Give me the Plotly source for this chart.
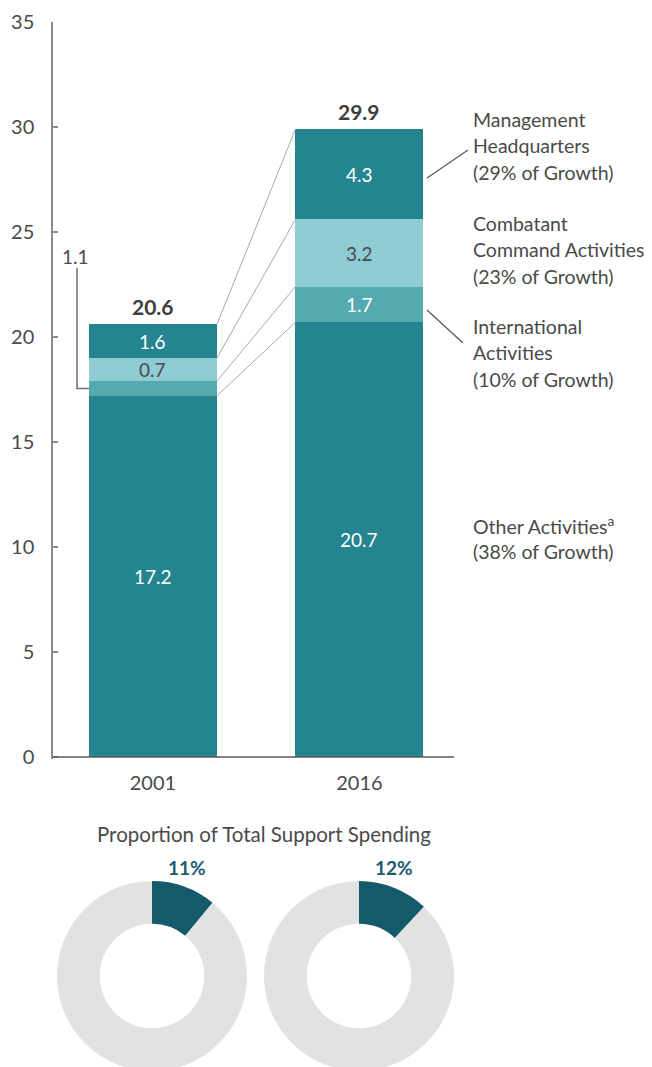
import plotly.graph_objects as go

# ---------------- data ----------------
years = ["2001", "2016"]
other = [17.2, 20.7]
international = [0.7, 1.7]
combatant = [1.1, 3.2]
management = [1.6, 4.3]

other_labels = ["17.2", "20.7"]
intl_labels = ["1.1", "1.7"]
comb_labels = ["0.7", "3.2"]
mgmt_labels = ["1.6", "4.3"]

series_names = ["Other Activities", "International Activities",
                "Combatant Command Activities", "Management Headquarters"]
growth_share = ["38%", "10%", "23%", "29%"]

share_pct = [11, 12]
share_labels = ["11%", "12%"]

y_ticks = [0, 5, 10, 15, 20, 25, 30, 35]

# ---------------- style ----------------
FONT = "Lato"
TXT = "#4a4a4a"
TEAL = "#24848F"
MID = "#57A9B0"
LIGHT = "#8FCCD3"
DARK = "#155A6B"
GREY = "#E1E2E4"

W, H = 652, 1067
OFF = 8                      # page body margin
PX_PER_UNIT = 21.0
Y0_PX = 757.0                # reference pixel of y = 0
AX_X_PX = 53.0               # reference pixel of y axis line
BAR_W = 0.62
X_LEFT = -0.484
PX_PER_X = 206.5


def ydata(px):
    return (Y0_PX - px) / PX_PER_UNIT


def xdata(px):
    return X_LEFT + (px - AX_X_PX) / PX_PER_X


def paper_x(px):
    return (px - OFF) / W


def paper_y(py):
    return 1 - (py - OFF) / H


xs = [0, 1]
fig = go.Figure()

stack = [(other, TEAL), (international, MID), (combatant, LIGHT), (management, TEAL)]
for (vals, col), name in zip(stack, series_names):
    fig.add_trace(go.Bar(x=xs, y=vals, width=BAR_W, marker=dict(color=col, line=dict(width=0)),
                         name=name, showlegend=False, hoverinfo="skip"))
fig.update_layout(barmode="stack")

# cumulative boundaries
tops = []
acc = [0.0, 0.0]
for vals, _ in stack:
    acc = [a + v for a, v in zip(acc, vals)]
    tops.append(list(acc))

# connector lines between the bars
for t in tops:
    fig.add_trace(go.Scatter(x=[0 + BAR_W / 2, 1 - BAR_W / 2], y=[t[0], t[1]], mode="lines",
                             line=dict(color="#a8a8a8", width=1), showlegend=False, hoverinfo="skip"))

annotations = []
# segment labels
label_sets = [other_labels, intl_labels, comb_labels, mgmt_labels]
colors_txt = ["white", "white", TXT, "white"]
bottoms = [[0.0, 0.0]] + tops[:-1]
for si, ((vals, _), labs) in enumerate(zip(stack, label_sets)):
    for i in range(2):
        mid = bottoms[si][i] + vals[i] / 2
        if vals[i] < 1.0:
            # callout on the left
            bx = xdata(77)
            fig.add_trace(go.Scatter(x=[i - BAR_W / 2, bx, bx], y=[mid, mid, ydata(268)], mode="lines",
                                     line=dict(color="#6e6e6e", width=1.5), showlegend=False,
                                     hoverinfo="skip"))
            annotations.append(dict(x=xdata(75), y=ydata(256), xref="x", yref="y", text=labs[i],
                                    showarrow=False, xanchor="center", yanchor="middle",
                                    font=dict(family=FONT, size=19, color=TXT)))
        else:
            annotations.append(dict(x=i, y=mid, xref="x", yref="y", text=labs[i], showarrow=False,
                                    xanchor="center", yanchor="middle",
                                    font=dict(family=FONT, size=19, color=colors_txt[si])))

# totals
for i in range(2):
    annotations.append(dict(x=i, y=tops[-1][i], xref="x", yref="y", text=f"<b>{tops[-1][i]:.1f}</b>",
                            showarrow=False, xanchor="center", yanchor="bottom", yshift=3,
                            font=dict(family=FONT, size=21, color="#3d3d3d")))

# right-hand labels
legend_blocks = [
    (["Management", "Headquarters", f"({growth_share[3]} of Growth)"], 119),
    (["Combatant", "Command Activities", f"({growth_share[2]} of Growth)"], 223),
    (["International", "Activities", f"({growth_share[1]} of Growth)"], 326),
    (["Other Activities<sup>a</sup>", f"({growth_share[0]} of Growth)"], 525),
]
for lines, top_px in legend_blocks:
    for k, ln in enumerate(lines):
        annotations.append(dict(x=xdata(471), y=ydata(top_px + 26.5 * k), xref="x", yref="y",
                                text=ln, showarrow=False, xanchor="left", yanchor="middle",
                                font=dict(family=FONT, size=19.5, color=TXT)))

# callout lines to right labels
fig.add_trace(go.Scatter(x=[xdata(427), xdata(468)], y=[ydata(178), ydata(150)], mode="lines",
                         line=dict(color="#555", width=1.2), showlegend=False, hoverinfo="skip"))
fig.add_trace(go.Scatter(x=[xdata(427), xdata(463)], y=[ydata(310), ydata(343)], mode="lines",
                         line=dict(color="#555", width=1.2), showlegend=False, hoverinfo="skip"))

# baseline (x axis line)
fig.add_shape(type="line", x0=X_LEFT, x1=xdata(454), y0=0, y1=0, xref="x", yref="y",
              line=dict(color="#5a5a5a", width=1.5))

# ---------------- donuts ----------------
pie_centers = [152, 359]   # reference pixel x of donut centres
PIE_CY = 976
R = 95
for c, p in zip(pie_centers, share_pct):
    fig.add_trace(go.Pie(values=[p, 100 - p], hole=0.55, sort=False, direction="clockwise",
                         rotation=0, marker=dict(colors=[DARK, GREY], line=dict(width=0)),
                         textinfo="none", hoverinfo="skip", showlegend=False,
                         domain=dict(x=[paper_x(c - R), paper_x(c + R)],
                                     y=[paper_y(PIE_CY + R), paper_y(PIE_CY - R)])))

annotations.append(dict(x=paper_x(264), y=paper_y(834), xref="paper", yref="paper",
                        text="Proportion of Total Support Spending", showarrow=False,
                        xanchor="center", yanchor="middle",
                        font=dict(family=FONT, size=20.5, color=TXT)))
for c, lab in zip(pie_centers, share_labels):
    annotations.append(dict(x=paper_x(c + 35), y=paper_y(867), xref="paper", yref="paper",
                            text=f"<b>{lab}</b>", showarrow=False,
                            xanchor="center", yanchor="middle",
                            font=dict(family=FONT, size=19, color="#1B5B6E")))

y_top_px = Y0_PX - 35 * PX_PER_UNIT - OFF
y_bot_px = Y0_PX + 0.1 * PX_PER_UNIT - OFF
fig.update_layout(
    width=W, height=H, autosize=False,
    margin=dict(l=0, r=0, t=0, b=0, pad=0),
    paper_bgcolor="white", plot_bgcolor="white",
    font=dict(family=FONT, color=TXT),
    annotations=annotations,
    bargap=0,
    xaxis=dict(domain=[(AX_X_PX - OFF) / W, 1],
               range=[X_LEFT, X_LEFT + (W - (AX_X_PX - OFF)) / PX_PER_X],
               tickvals=xs, ticktext=years, showgrid=False, zeroline=False, showline=False,
               automargin=False, ticks="", tickfont=dict(family=FONT, size=20, color=TXT),
               ticklabelstandoff=10),
    yaxis=dict(domain=[1 - y_bot_px / H, 1 - y_top_px / H], range=[-0.1, 35],
               tickvals=y_ticks, showgrid=False, zeroline=False, showline=True, automargin=False,
               linecolor="#8a8a8a", linewidth=1.5, ticks="inside", ticklen=5, tickwidth=1.5,
               tickcolor="#8a8a8a", tickfont=dict(family=FONT, size=20, color=TXT),
               ticklabelstandoff=13),
)

fig.write_html("out.html")
